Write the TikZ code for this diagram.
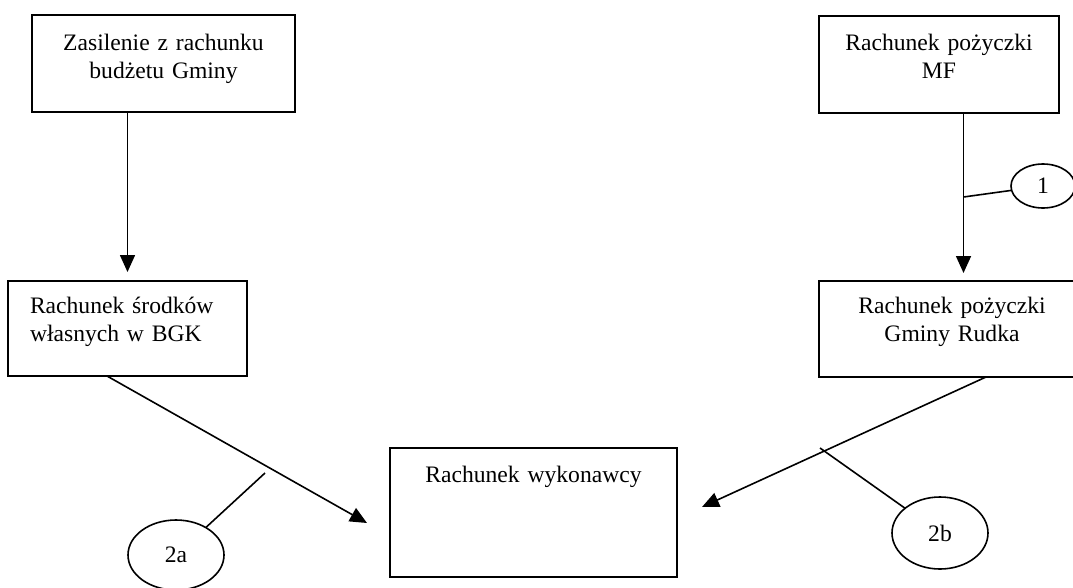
\documentclass[tikz,border=0pt]{standalone}
\usepackage{fontspec}
\setmainfont{Liberation Serif}
\usetikzlibrary{arrows.meta,shapes.geometric}

\begin{document}
\begin{tikzpicture}[
         x = 1pt, y = -1pt,
every node/.style = {inner sep=0pt, outer sep=0pt,
                     font=\fontsize{23.6}{28}\selectfont},
       box/.style = {draw, line width=1.6pt, anchor=north west,
                     text width=#1, align=center},
      oval/.style = {ellipse, draw, line width=1.6pt},
       arr/.style = {line width=1.6pt,
                     -{Triangle[length=17pt,width=15pt]}},
      tick/.style = {line width=1.6pt}
                        ]
\useasboundingbox (0,0) rectangle (1073,587);
%
\node (zas)  [box=263pt, text height=35pt, text depth=62pt] at (32,15)
    {Zasilenie z rachunku\\ budżetu Gminy};
\node (mf)   [box=240pt, text height=34pt, text depth=63pt] at (819,16)
    {Rachunek pożyczki\\ MF};
\node (lbgk) [box=195pt, align=left, inner xsep=22pt,
              text height=32pt, text depth=63pt] at (8,281)
    {Rachunek środków\\ własnych w BGK};
\node (lrud) [box=266pt, text height=32pt, text depth=64pt] at (819,281)
    {Rachunek pożyczki\\ Gminy Rudka};
\node (lwyk) [box=287pt, text height=34pt, text depth=95pt] at (390,448)
    {Rachunek wykonawcy};
%
\node (e1)  [oval, minimum width=64pt, minimum height=44pt] at (1043,186) {1};
\node (e2a) [oval, minimum width=96pt, minimum height=70pt] at (176,555) {2a};
\node (e2b) [oval, minimum width=96pt, minimum height=72pt] at (940,533) {2b};
%
\coordinate (v1)  at (963.5,0);
\coordinate (k1)  at (963.5,197);
\coordinate (k2a) at (265,473);
\coordinate (k2b) at (820,448);
%
\draw[arr, shorten >=9pt] (zas.south -| lbgk.north) -- (lbgk.north);
\draw[arr, shorten >=8pt] (mf.south -| v1) -- (lrud.north -| v1);
\draw[arr] ([xshift=99pt]lbgk.south west) -- ([shift={(-23pt,-10.5pt)}]lwyk.west);
\draw[arr] ([xshift=167pt]lrud.south west) -- ([shift={(25pt,5.5pt)}]lwyk.east);
%
\draw[tick] (k1)  -- (e1);
\draw[tick] (k2a) -- (e2a);
\draw[tick] (k2b) -- (e2b);
\end{tikzpicture}
\end{document}
